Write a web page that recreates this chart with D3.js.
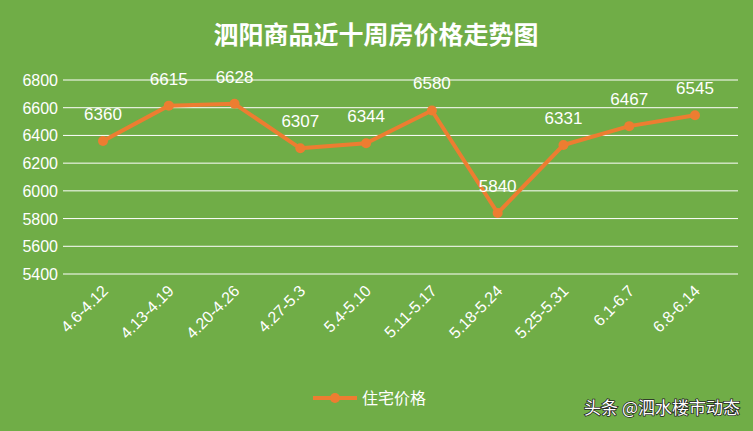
<!DOCTYPE html><html><head><meta charset="utf-8">
<script src="https://cdn.jsdelivr.net/npm/d3@7"></script>
<style>body{margin:0}</style></head><body><svg id="c" width="753" height="431"></svg>
<script>
const categories=["4.6-4.12","4.13-4.19","4.20-4.26","4.27-5.3","5.4-5.10","5.11-5.17","5.18-5.24","5.25-5.31","6.1-6.7","6.8-6.14"];
const values=[6360,6615,6628,6307,6344,6580,5840,6331,6467,6545];
const yTicks=[5400,5600,5800,6000,6200,6400,6600,6800];
const svg=d3.select("#c");
const F="'Microsoft YaHei','Noto Sans CJK SC',sans-serif";
svg.append("rect").attr("width",753).attr("height",431).attr("fill","#70AD47");
svg.append("text").attr("x",376).attr("y",44).attr("text-anchor","middle").attr("fill","#fff").attr("font-size",25).attr("font-weight","bold").attr("font-family",F).text("泗阳商品近十周房价格走势图");
const x=d3.scalePoint().domain(categories).range([103,695]);
const y=d3.scaleLinear().domain([5400,6800]).range([274,80]);
const g=svg.append("g");
g.selectAll("line.g").data(yTicks).join("line").attr("x1",63).attr("x2",738).attr("y1",d=>y(d)).attr("y2",d=>y(d)).attr("stroke","#fff").attr("stroke-width",1);
g.selectAll("text.y").data(yTicks).join("text").attr("x",58).attr("y",d=>y(d)+6).attr("text-anchor","end").attr("fill","#fff").attr("font-size",16).attr("font-family","Liberation Sans, Arial").text(d=>d);
g.selectAll("text.x").data(categories).join("text").attr("transform",d=>`translate(${x(d)+6},${292}) rotate(-45)`).attr("text-anchor","end").attr("fill","#fff").attr("font-size",16).attr("font-family","Liberation Sans, Arial").text(d=>d);
const line=d3.line().x((d,i)=>x(categories[i])).y(d=>y(d));
g.append("path").datum(values).attr("d",line).attr("fill","none").attr("stroke","#ED7D31").attr("stroke-width",4).attr("stroke-linejoin","round");
g.selectAll("circle").data(values).join("circle").attr("cx",(d,i)=>x(categories[i])).attr("cy",d=>y(d)).attr("r",5).attr("fill","#ED7D31");
g.selectAll("text.v").data(values).join("text").attr("x",(d,i)=>x(categories[i])).attr("y",d=>y(d)-21).attr("text-anchor","middle").attr("fill","#fff").attr("font-size",17).attr("font-family","Liberation Sans, Arial").text(d=>d);
svg.append("line").attr("x1",313).attr("x2",357).attr("y1",398).attr("y2",398).attr("stroke","#ED7D31").attr("stroke-width",4);
svg.append("circle").attr("cx",335).attr("cy",398).attr("r",5).attr("fill","#ED7D31");
svg.append("text").attr("x",362).attr("y",404).attr("fill","#fff").attr("font-size",16).attr("font-family",F).text("住宅价格");
svg.append("text").attr("x",740).attr("y",414).attr("text-anchor","end").attr("fill","#fff").attr("font-size",17).attr("font-family",F).attr("stroke","#222").attr("stroke-width",1.5).attr("paint-order","stroke").text("头条 @泗水楼市动态");
</script></body></html>
